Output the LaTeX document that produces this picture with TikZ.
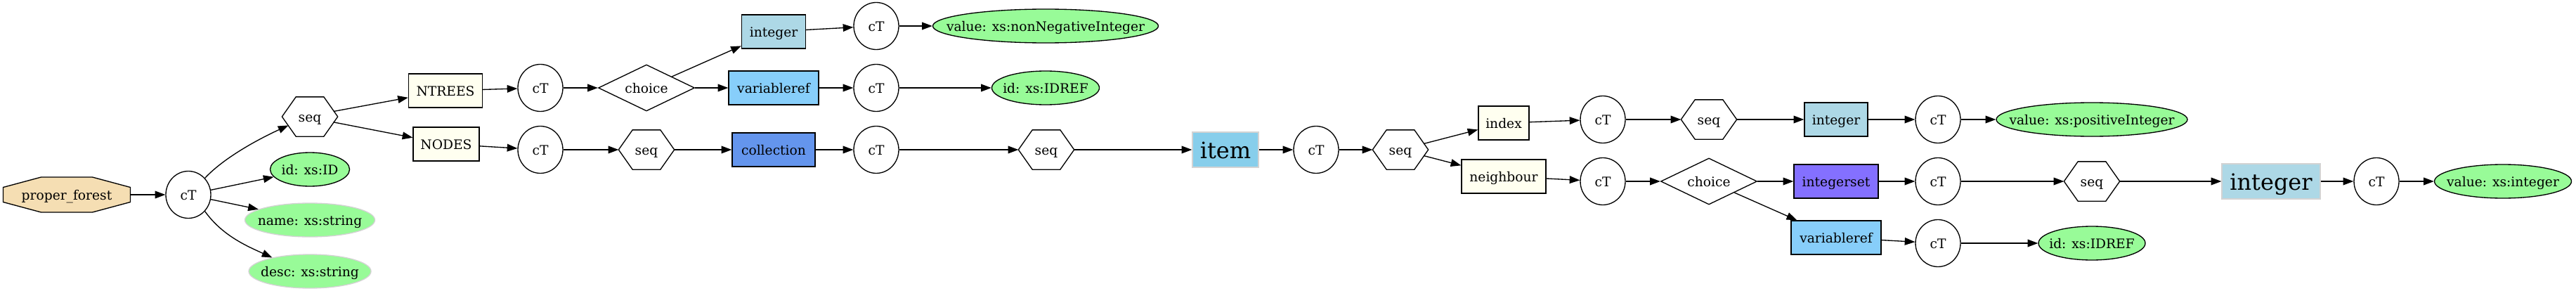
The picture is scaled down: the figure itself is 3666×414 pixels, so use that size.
\documentclass[tikz,border=0pt]{standalone}
\usepackage{fontspec}
\setmainfont{DejaVu Serif}
\usetikzlibrary{arrows.meta,shapes.geometric,calc}
\definecolor{wheatc}{HTML}{F5DEB3}
\definecolor{ivoryc}{HTML}{FFFFF0}
\definecolor{lblue}{HTML}{ADD8E6}
\definecolor{lsky}{HTML}{87CEFA}
\definecolor{cblue}{HTML}{6495ED}
\definecolor{lslate}{HTML}{8470FF}
\definecolor{skyc}{HTML}{87CEEB}
\definecolor{pgreen}{HTML}{98FB98}
\definecolor{lgrey}{HTML}{D3D3D3}
\newcommand\zw[1]{\hbox to 0pt{\hss#1\hss}}
\begin{document}
\begin{tikzpicture}[x=0.75pt,y=-0.75pt,
  every node/.style={font=\fontsize{14}{17}\selectfont, text height=11pt, text depth=0pt, inner sep=0pt, line width=1pt},
  ctnode/.style={ellipse, draw, minimum width=48pt, minimum height=50.25pt},
  hexa/.style={rectangle, minimum width=58.5pt, minimum height=41.25pt},
  hexline/.style={line width=1pt, line join=miter},
  gvbox/.style={rectangle, draw, minimum height=36pt},
  attrn/.style={ellipse, draw, fill=pgreen, minimum height=36pt},
  attrg/.style={attrn, draw=lgrey},
  gvbig/.style={rectangle, draw=lgrey, minimum height=37.5pt, font=\fontsize{24}{29}\selectfont, text height=18.9pt},
  chc/.style={diamond, draw, minimum width=102.75pt, minimum height=49.5pt},
  arr/.style={line width=1pt, -{Triangle[length=11pt,width=8pt]}}
]
\useasboundingbox (0,0) rectangle (3666,414);
% octagon
\coordinate (pfc) at (95,277);
\draw[line width=1pt, fill=wheatc] ($(pfc)+(-90.5,-10.5)$) -- ($(pfc)+(-36.5,-25)$) -- ($(pfc)+(36.5,-25)$) -- ($(pfc)+(90.5,-10.5)$) -- ($(pfc)+(90.5,10.5)$) -- ($(pfc)+(36.5,25)$) -- ($(pfc)+(-36.5,25)$) -- ($(pfc)+(-90.5,10.5)$) -- cycle;
\node[minimum width=135.75pt, minimum height=37.5pt] (pf) at (pfc) {proper\_forest};

\node[ctnode] (c1) at (268,277) {cT};
\node[hexa] (s1) at (441,166) {seq};
\node[attrn, minimum width=84.75pt] (id1) at (441,241) {\zw{id: xs:ID}};
\node[attrg, minimum width=138.75pt] (nm) at (441,313) {\zw{name: xs:string}};
\node[attrg, minimum width=130.5pt] (ds) at (441,386) {\zw{desc: xs:string}};

\node[gvbox, fill=ivoryc, minimum width=78.75pt] (nt) at (634,129) {NTREES};
\node[gvbox, fill=ivoryc, minimum width=70.5pt] (nd) at (635,205) {NODES};
\node[ctnode] (c2) at (769,125) {cT};
\node[ctnode] (c3) at (769,213) {cT};
\node[chc] (ch1) at (920,125) {\zw{choice}};
\node[hexa] (s2) at (920,213) {seq};
\node[gvbox, fill=lblue, minimum width=68.25pt] (i1) at (1101,45) {integer};
\node[gvbox, fill=lsky, minimum width=96pt] (v1) at (1101,125) {variableref};
\node[gvbox, fill=cblue, minimum width=88.5pt] (col) at (1101,213) {collection};
\node[ctnode] (c4) at (1247,37) {cT};
\node[ctnode] (c5) at (1247,125) {cT};
\node[ctnode] (c6) at (1247,213) {cT};
\node[attrn, minimum width=240.75pt] (val1) at (1488,37) {\zw{value: xs:nonNegativeInteger}};
\node[attrn, minimum width=114.75pt] (idr1) at (1488,125) {\zw{id: xs:IDREF}};
\node[hexa] (s3) at (1489,213) {seq};
\node[gvbig, fill=skyc, minimum width=70.5pt] (item) at (1744,213) {item};
\node[ctnode] (c7) at (1873,213) {cT};
\node[hexa] (s4) at (1993,213) {seq};
\node[gvbox, fill=ivoryc, minimum width=54pt] (idx) at (2140,175) {index};
\node[gvbox, fill=ivoryc, minimum width=90pt] (nb) at (2140,251) {neighbour};
\node[ctnode] (c8) at (2281,170) {cT};
\node[ctnode] (c9) at (2281,258) {cT};
\node[hexa] (s5) at (2432,170) {seq};
\node[chc] (ch2) at (2432,258) {\zw{choice}};
\node[gvbox, fill=lblue, minimum width=67.5pt] (i2) at (2613,170) {integer};
\node[gvbox, fill=lslate, minimum width=90pt] (iset) at (2613,258) {integerset};
\node[gvbox, fill=lsky, minimum width=96pt] (v2) at (2613,338) {variableref};
\node[ctnode] (c10) at (2758,170) {cT};
\node[ctnode] (c11) at (2758,258) {cT};
\node[ctnode] (c12) at (2758,346) {cT};
\node[attrn, minimum width=204pt] (val2) at (2977,170) {\zw{value: xs:positiveInteger}};
\node[hexa] (s6) at (2977,258) {seq};
\node[attrn, minimum width=114pt] (idr2) at (2977,346) {\zw{id: xs:IDREF}};
\node[gvbig, fill=lblue, minimum width=105pt] (ibig) at (3232,258) {integer};
\node[ctnode] (c13) at (3382,258) {cT};
\node[attrn, minimum width=146.25pt] (val3) at (3562,258) {\zw{value: xs:integer}};

% hexagon outlines of the seq nodes
\foreach \n in {s1,s2,s3,s4,s5,s6}
  \draw[hexline] (\n.west) -- ($(\n.north west)!0.25!(\n.north east)$) -- ($(\n.north west)!0.75!(\n.north east)$) -- (\n.east) -- ($(\n.south west)!0.75!(\n.south east)$) -- ($(\n.south west)!0.25!(\n.south east)$) -- cycle;

\coordinate (s1in) at ($(s1)+(-30.5,12.4)$);
\coordinate (s1o1) at ($(s1)+(33.7,-7.5)$);
\coordinate (s1o2) at ($(s1)+(33.5,7.8)$);
\coordinate (s4o1) at ($(s4)+(33,-8.5)$);
\coordinate (s4o2) at ($(s4)+(33,8.5)$);

\draw[arr] (pf) -- (c1);
\draw[arr] (c1.45) .. controls +(30,-32) and +(-35,16) .. (s1in);
\draw[arr] (c1) -- (id1);
\draw[arr] (c1) -- (nm);
\draw[arr] (c1.-45) .. controls +(25,35) and +(-35,-16) .. (ds.160);
\draw[arr] (s1o1) -- (nt);
\draw[arr] (s1o2) -- (nd);
\draw[arr] (nt) -- (c2);
\draw[arr] (nd) -- (c3);
\draw[arr] (c2) -- (ch1);
\draw[arr] (ch1) -- (i1);
\draw[arr] (ch1) -- (v1);
\draw[arr] (c3) -- (s2);
\draw[arr] (s2) -- (col);
\draw[arr] (i1) -- (c4);
\draw[arr] (v1) -- (c5);
\draw[arr] (col) -- (c6);
\draw[arr] (c4) -- (val1);
\draw[arr] (c5) -- (idr1);
\draw[arr] (c6) -- (s3);
\draw[arr] (s3) -- (item);
\draw[arr] (item) -- (c7);
\draw[arr] (c7) -- (s4);
\draw[arr] (s4o1) -- (idx);
\draw[arr] (s4o2) -- (nb);
\draw[arr] (idx) -- (c8);
\draw[arr] (nb) -- (c9);
\draw[arr] (c8) -- (s5);
\draw[arr] (c9) -- (ch2);
\draw[arr] (s5) -- (i2);
\draw[arr] (ch2) -- (iset);
\draw[arr] (ch2) -- (v2);
\draw[arr] (i2) -- (c10);
\draw[arr] (iset) -- (c11);
\draw[arr] (v2) -- (c12);
\draw[arr] (c10) -- (val2);
\draw[arr] (c11) -- (s6);
\draw[arr] (c12) -- (idr2);
\draw[arr] (s6) -- (ibig);
\draw[arr] (ibig) -- (c13);
\draw[arr] (c13) -- (val3);
\end{tikzpicture}
\end{document}
